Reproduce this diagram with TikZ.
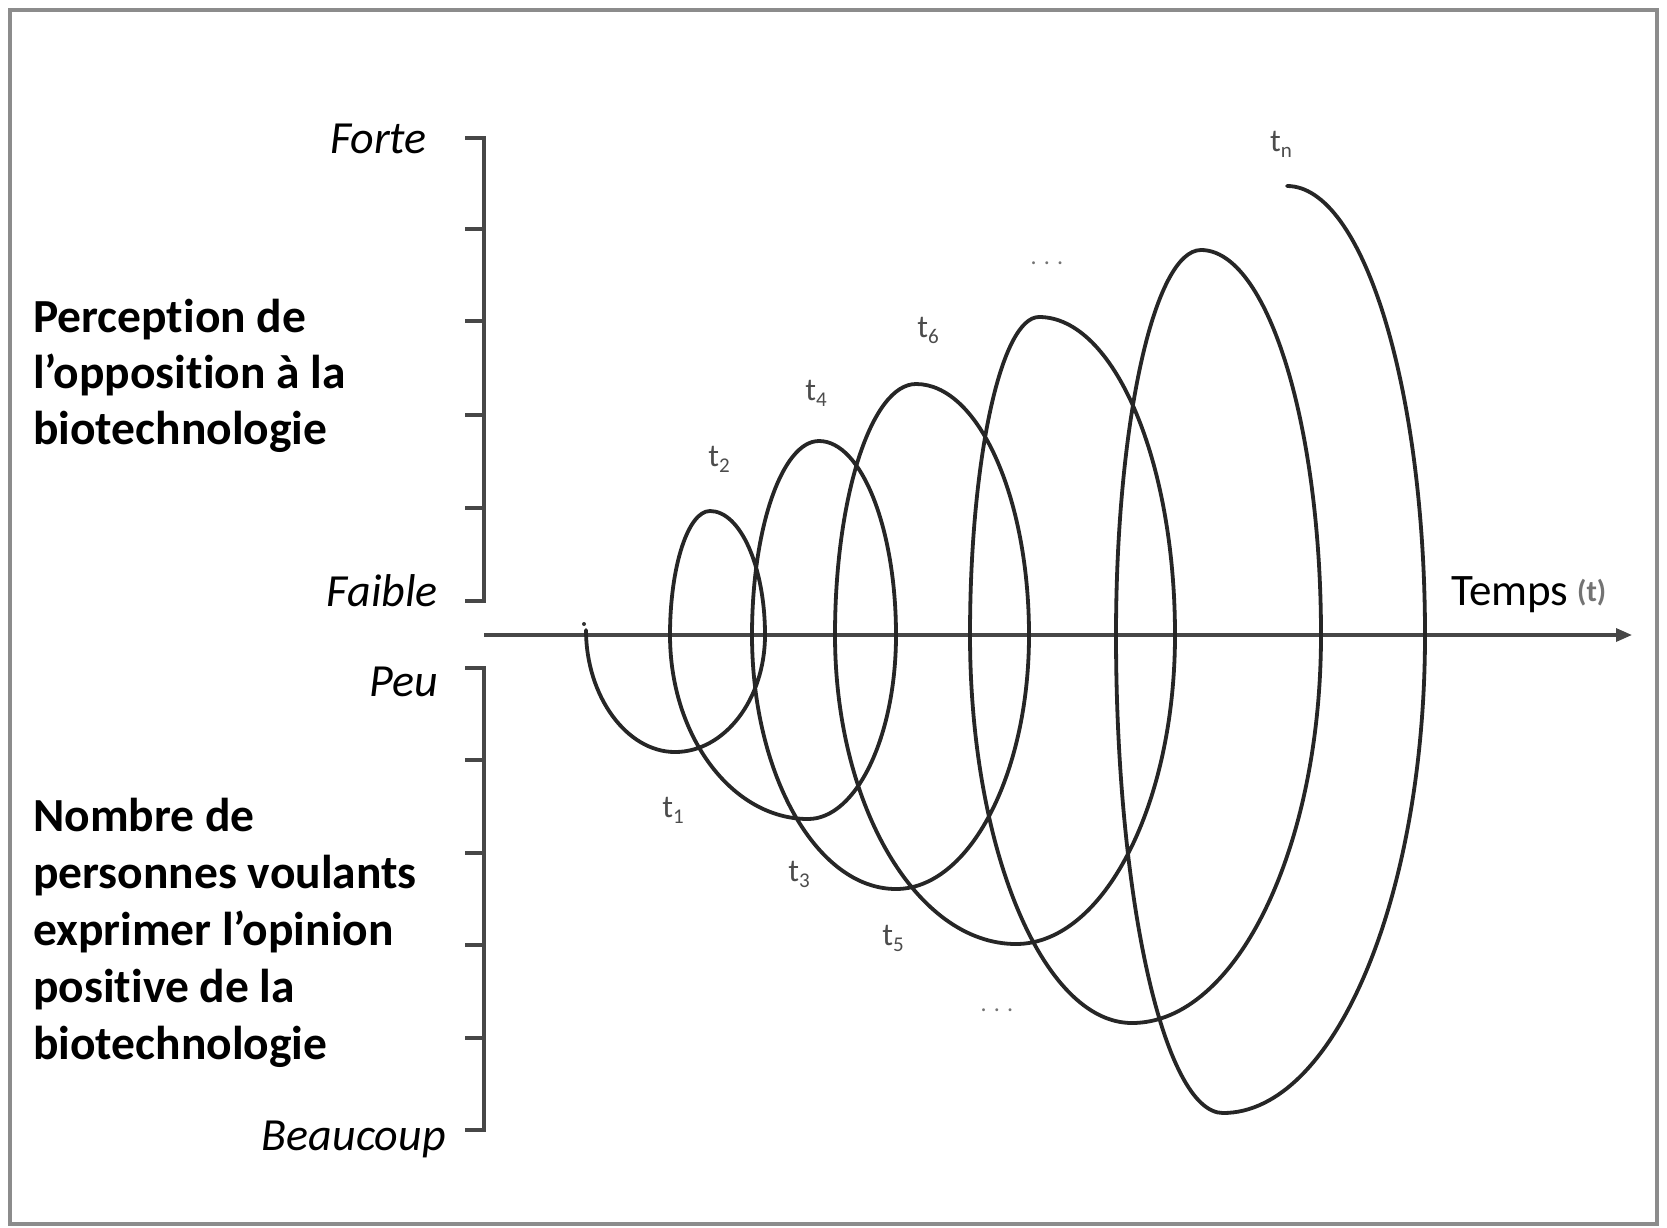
\documentclass[tikz,border=0pt]{standalone}
\usepackage{fontspec}
\setmainfont{Carlito}[Ligatures=NoCommon]
\usetikzlibrary{arrows.meta}
\newcommand\tlabel[1]{t\lower6pt\hbox{\fontsize{21}{21}\selectfont #1}}
\begin{document}
\begin{tikzpicture}[x=1pt,y=-1pt,
  frameline/.style={line width=4pt, draw=black!45},
  axisline/.style={line width=3.2pt, draw=black!72},
  curve/.style={line width=3.8pt, draw=black!85, line join=round, line cap=round},
  boldlab/.style={anchor=base west, inner sep=0pt, font=\fontsize{47.5}{56}\selectfont\bfseries},
  itlab/.style={anchor=base east, inner sep=0pt, font=\fontsize{46}{54}\selectfont\itshape},
  tlab/.style={inner sep=0pt, text=black!70, font=\fontsize{32}{32}\selectfont},
  dots/.style={inner sep=0pt, text=black!55, font=\fontsize{24}{24}\selectfont}]
\useasboundingbox (0,0) rectangle (1667,1227);
% frame
\draw[frameline] (10,10) rectangle (1657,1224);
% axes
\coordinate (o) at (484,635);
\coordinate (tip) at (1632,635);
\draw[axisline] (465,138) -- (484,138) -- (484,601) -- (465,601);
\foreach \y in {229,321,415,508} \draw[axisline] (465,\y) -- (484,\y);
\draw[axisline] (465,668) -- (484,668) -- (484,1130) -- (465,1130);
\foreach \y in {760,853,945,1038} \draw[axisline] (465,\y) -- (484,\y);
\draw[axisline, -{Triangle[length=16pt,width=13pt]}] (o) -- (tip);
% spiral points
\coordinate (s0) at (586,630);
\coordinate (b1) at (675,752);  \coordinate (x1) at (765,635);
\coordinate (t1) at (710,511);  \coordinate (x2) at (670,635);
\coordinate (b2) at (808,819);  \coordinate (x3) at (896,635);
\coordinate (t2) at (819,441);  \coordinate (x4) at (752,635);
\coordinate (b3) at (896,889);  \coordinate (x5) at (1029,635);
\coordinate (t3) at (916,384);  \coordinate (x6) at (835,635);
\coordinate (b4) at (1016,944); \coordinate (x7) at (1175,635);
\coordinate (t4) at (1039,317); \coordinate (x8) at (970,635);
\coordinate (b5) at (1132,1023);\coordinate (x9) at (1321,635);
\coordinate (t5) at (1201,250); \coordinate (x10) at (1116,635);
\coordinate (b6) at (1223,1113);\coordinate (x11) at (1425,635);
\coordinate (e) at (1287,186);
\draw[curve] (s0)
  .. controls (586,696) and (626.6,752) .. (b1)
  .. controls (724.5,752) and (765,699.4) .. (x1)
  .. controls (765,566.8) and (740.3,511) .. (t1)
  .. controls (688,511) and (670,566.8) .. (x2)
  .. controls (670,736.2) and (732.1,819) .. (b2)
  .. controls (856.4,819) and (896,736.2) .. (x3)
  .. controls (896,528.3) and (861.4,441) .. (t2)
  .. controls (782.2,441) and (752,528.3) .. (x4)
  .. controls (752,774.7) and (816.8,889) .. (b3)
  .. controls (969.2,889) and (1029,774.7) .. (x5)
  .. controls (1029,497) and (978.2,384) .. (t3)
  .. controls (871.5,384) and (835,497) .. (x6)
  .. controls (835,805) and (916.5,944) .. (b4)
  .. controls (1103.5,944) and (1175,805) .. (x7)
  .. controls (1175,460.1) and (1113.8,317) .. (t4)
  .. controls (1001.1,317) and (970,460.1) .. (x8)
  .. controls (970,848.4) and (1042.9,1023) .. (b5)
  .. controls (1236,1023) and (1321,848.4) .. (x9)
  .. controls (1321,423.3) and (1267,250) .. (t5)
  .. controls (1154.3,250) and (1116,423.3) .. (x10)
  .. controls (1116,897.9) and (1164.2,1113) .. (b6)
  .. controls (1334.1,1113) and (1425,897.9) .. (x11)
  .. controls (1425,388) and (1362.9,186) .. (e);
\fill[black!80] (584,624) circle (2pt);
% curve labels
\node[tlab] (l1) at (673,810) {\tlabel{1}};
\node[tlab] (l2) at (719,459) {\tlabel{2}};
\node[tlab] (l3) at (799,874) {\tlabel{3}};
\node[tlab] (l4) at (816,393) {\tlabel{4}};
\node[tlab] (l5) at (893,938) {\tlabel{5}};
\node[tlab] (l6) at (928,330) {\tlabel{6}};
\node[tlab] (ln) at (1281,144) {\tlabel{n}};
\node[dots] (d1) at (1047,263) {. . .};
\node[dots] (d2) at (997,1010) {. . .};
% axis texts
\node[itlab] (forte) at (427,153) {Forte};
\node[itlab] (faible) at (438,606) {Faible};
\node[itlab] (peu) at (438,696) {Peu};
\node[itlab] (beaucoup) at (446,1150) {Beaucoup};
\node[anchor=base west, inner sep=0pt, font=\fontsize{45}{54}\selectfont] (temps) at (1451,605) {Temps};
\node[anchor=base west, inner sep=0pt, text=black!55, font=\fontsize{30}{30}\selectfont\bfseries] (tt) at (1577,601) {(t)};
% left titles
\node[boldlab] (p1) at (33,332) {Perception de};
\node[boldlab] (p2) at (33,388) {l’opposition à la};
\node[boldlab] (p3) at (33,444) {biotechnologie};
\node[boldlab] (n1) at (33,831) {Nombre de};
\node[boldlab] (n2) at (33,888) {personnes voulants};
\node[boldlab] (n3) at (33,945) {exprimer l’opinion};
\node[boldlab] (n4) at (33,1002) {positive de la};
\node[boldlab] (n5) at (33,1059) {biotechnologie};
\end{tikzpicture}
\end{document}
